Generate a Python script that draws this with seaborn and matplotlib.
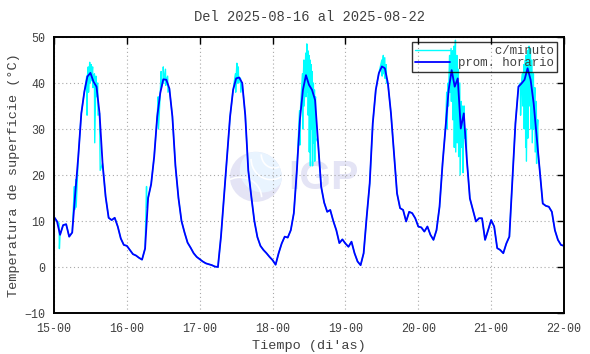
import matplotlib
matplotlib.use("Agg")
import matplotlib.pyplot as plt
import seaborn as sns
import pandas as pd
from matplotlib.patches import Ellipse, Arc
from matplotlib.lines import Line2D

# ---------------- data ----------------
days = [15, 16, 17, 18, 19, 20, 21]
hourly_15 = [10.9, 9.9, 7.0, 9.1, 9.3, 6.6, 7.5, 16.0, 24.0, 33.4, 38.1, 41.4,
             42.2, 40.3, 39.2, 33.4, 22.5, 15.3, 10.7, 10.2, 10.7, 8.8, 6.2, 4.8]
hourly_16 = [4.6, 3.7, 2.8, 2.5, 2.0, 1.6, 4.0, 15.0, 18.0, 24.0, 32.7, 37.8,
             40.8, 40.7, 38.8, 32.7, 22.0, 15.0, 10.0, 7.5, 5.3, 4.2, 3.0, 2.2]
hourly_17 = [1.7, 1.2, 0.8, 0.6, 0.4, 0.1, 0.0, 6.6, 15.3, 24.0, 32.7, 38.5,
             41.0, 41.2, 40.0, 33.0, 21.0, 15.3, 10.0, 6.5, 4.6, 3.7, 3.0, 2.2]
hourly_18 = [1.5, 0.5, 3.0, 5.1, 6.6, 6.4, 8.0, 11.7, 21.0, 32.0, 38.5, 41.7,
             39.6, 38.5, 36.3, 27.0, 17.5, 14.0, 12.0, 12.4, 10.0, 8.0, 5.2, 6.0]
hourly_19 = [5.1, 4.4, 5.5, 3.0, 1.2, 0.4, 3.0, 10.9, 18.2, 31.2, 38.5, 42.1,
             43.6, 43.2, 39.9, 33.4, 24.7, 16.0, 12.8, 12.4, 9.9, 12.0, 11.7, 10.6]
hourly_20 = [8.8, 8.6, 7.7, 8.8, 7.0, 5.9, 8.0, 13.1, 22.5, 30.5, 38.5, 42.8,
             39.2, 41.0, 30.1, 33.4, 23.3, 14.9, 12.4, 9.9, 10.6, 10.6, 5.9, 8.0]
hourly_21 = [10.2, 8.8, 4.1, 3.7, 3.0, 5.1, 6.6, 18.9, 31.2, 39.2, 39.9, 40.7,
             43.2, 40.7, 35.6, 28.3, 21.1, 13.8, 13.3, 13.1, 12.0, 8.0, 5.9, 4.8]
end_value = 4.6

# per-minute excursions around the hourly curve (time in days, low, high)
spike_t = [15.07, 15.28, 15.30, 15.45, 15.47, 15.49, 15.51, 15.53, 15.555, 15.575, 15.60, 15.63,
           16.27, 16.43, 16.47, 16.50, 16.53, 16.56,
           17.49, 17.51, 17.53, 17.56,
           18.37, 18.41, 18.43, 18.455, 18.47, 18.485, 18.50, 18.515, 18.53, 18.545, 18.56, 18.575, 18.59,
           19.50, 19.52, 19.54, 19.56,
           20.39, 20.41, 20.43, 20.45, 20.47, 20.49, 20.51, 20.53, 20.55, 20.57, 20.59, 20.61, 20.63, 20.66,
           21.40, 21.43, 21.45, 21.47, 21.48, 21.50, 21.52, 21.54, 21.56, 21.58, 21.60, 21.62, 21.64]
spike_lo = [4.0, 12.5, 13.0, 33.0, 38.0, 40.0, 40.5, 39.0, 27.0, 37.0, 33.0, 21.0,
            13.0, 30.0, 39.0, 40.0, 39.5, 38.0,
            38.0, 40.0, 40.0, 38.0,
            26.5, 30.0, 35.0, 37.0, 38.0, 33.0, 25.0, 22.0, 30.0, 22.0, 27.0, 23.0, 28.0,
            41.5, 42.0, 41.0, 40.0,
            30.0, 35.0, 38.0, 36.0, 32.0, 26.0, 25.0, 27.0, 24.0, 20.0, 26.0, 20.5, 28.0, 24.0,
            33.0, 35.0, 30.0, 26.0, 23.0, 28.0, 35.0, 30.0, 27.0, 30.0, 25.0, 22.5, 25.0]
spike_hi = [9.5, 17.5, 19.0, 41.5, 43.5, 44.5, 44.0, 43.5, 42.0, 41.5, 40.0, 27.0,
            17.5, 37.0, 42.5, 43.5, 43.0, 41.5,
            42.0, 44.3, 43.5, 41.0,
            34.0, 42.0, 45.0, 46.5, 48.5, 47.0, 46.0, 45.0, 44.0, 42.5, 40.0, 38.5, 37.0,
            45.0, 46.0, 45.5, 44.0,
            38.0, 40.0, 46.0, 47.5, 47.0, 48.0, 49.3, 46.0, 43.0, 40.0, 36.0, 35.0, 35.0, 30.0,
            40.0, 42.0, 44.0, 45.0, 46.0, 47.0, 48.0, 47.5, 45.0, 42.0, 39.0, 36.0, 32.0]

title_text = "Del 2025-08-16 al 2025-08-22"
x_ticks = [15, 16, 17, 18, 19, 20, 21, 22]
x_tick_labels = ["15-00", "16-00", "17-00", "18-00", "19-00", "20-00", "21-00", "22-00"]
y_ticks = [-10, 0, 10, 20, 30, 40, 50]
xlabel_text = "Tiempo (di'as)"
ylabel_text = "Temperatura de superficie (°C)"
legend_labels = ["c/minuto", "prom. horario"]

# ---------------- tables ----------------
hourly = hourly_15 + hourly_16 + hourly_17 + hourly_18 + hourly_19 + hourly_20 + hourly_21
t_hour = [d + h / 24 for d in days for h in range(24)] + [22.0]
v_hour = hourly + [end_value]
blue_df = pd.DataFrame({"t": t_hour, "v": v_hour})

cy_t = list(t_hour)
cy_v = list(v_hour)
for t, lo, hi in zip(spike_t, spike_lo, spike_hi):
    cy_t += [t, t + 0.004]
    cy_v += [hi, lo]
cyan_df = pd.DataFrame({"t": cy_t, "v": cy_v}).sort_values("t").reset_index(drop=True)

# ---------------- style ----------------
sns.set_theme(style="white")
plt.rcParams["font.family"] = ["Liberation Mono", "DejaVu Sans Mono"]
text_col = "#404040"

fig = plt.figure(figsize=(5.9, 3.54), dpi=100)
W, H = 590, 354
ax = fig.add_axes([54 / W, 1 - 313 / H, 510 / W, 276 / H])
ax.set_facecolor("white")

# watermark (behind grid)
wm_c = "#e4e4f5"
ell = Ellipse((17.77, 19.6), 0.713, 10.87, facecolor=wm_c, edgecolor="none", zorder=0.2)
ax.add_patch(ell)
inner = Ellipse((17.86, 21.0), 0.62, 9.6, facecolor="#e9f4ff", edgecolor="none", zorder=0.25)
inner.set_clip_path(ell)
ax.add_patch(inner)
for (cx, cy, w, h, a1, a2) in [(17.98, 23.5, 0.55, 9.0, 180, 300),
                               (18.02, 24.5, 0.35, 6.0, 180, 300),
                               (17.55, 15.0, 0.6, 9.0, 30, 120)]:
    arc = Arc((cx, cy), w, h, theta1=a1, theta2=a2, color="white", lw=1.2, zorder=0.3)
    arc.set_clip_path(ell)
    ax.add_patch(arc)
ax.text(18.21, 19.4, "IGP", fontsize=29.5, fontweight="bold", color=wm_c,
        family="Liberation Sans", ha="left", va="center", zorder=0.3)

# data
sns.lineplot(data=cyan_df, x="t", y="v", sort=False, estimator=None, color="#00ffff",
             lw=1.0, ax=ax, zorder=3)
sns.lineplot(data=blue_df, x="t", y="v", sort=False, estimator=None, color="#0000ff",
             lw=1.3, ax=ax, zorder=4)

ax.set_xlim(15, 22)
ax.set_ylim(-10, 50)
ax.set_xticks(x_ticks)
ax.set_xticklabels(x_tick_labels)
ax.set_yticks(y_ticks)
ax.set_xlabel("")
ax.set_ylabel("")

ax.grid(True, color="#a8a8a8", linestyle=(0, (1, 2.5)), linewidth=0.8, zorder=1)
ax.set_axisbelow(False)
for gl in ax.get_xgridlines() + ax.get_ygridlines():
    gl.set_zorder(1)

for s in ax.spines.values():
    s.set_visible(True)
    s.set_color("black")
    s.set_linewidth(1.4)
    s.set_zorder(6)

ax.tick_params(axis="both", which="major", direction="in", length=5, width=1.0,
               color="black", top=True, right=True, labelsize=8.4, labelcolor=text_col)
ax.tick_params(axis="x", pad=7)
ax.tick_params(axis="y", pad=6.5)

# legend
handles = [Line2D([0], [0], color="#00ffff", lw=1.0),
           Line2D([0], [0], color="#0000ff", lw=1.3)]
labels = ["     " + legend_labels[0], legend_labels[1]]
leg = ax.legend(handles, labels, loc="upper right", bbox_to_anchor=(0.986, 0.982),
                borderaxespad=0, fontsize=8.9, frameon=True, fancybox=False,
                handlelength=2.9, handletextpad=0.6, labelspacing=0.0,
                borderpad=0.25)
leg.get_frame().set_edgecolor("black")
leg.get_frame().set_linewidth(1.0)
leg.get_frame().set_facecolor("none")
leg.set_zorder(7)
for t in leg.get_texts():
    t.set_color(text_col)

fig.text((54 + 255) / W, 1 - 17 / H, title_text, ha="center", va="center",
         fontsize=9.9, color=text_col)
fig.text((54 + 255) / W, 1 - 346 / H, xlabel_text, ha="center", va="center",
         fontsize=9.7, color=text_col)
fig.text(14 / W, 1 - 175 / H, ylabel_text, ha="center", va="center", rotation=90,
         fontsize=9.7, color=text_col)

fig.savefig("out.png", dpi=100)
